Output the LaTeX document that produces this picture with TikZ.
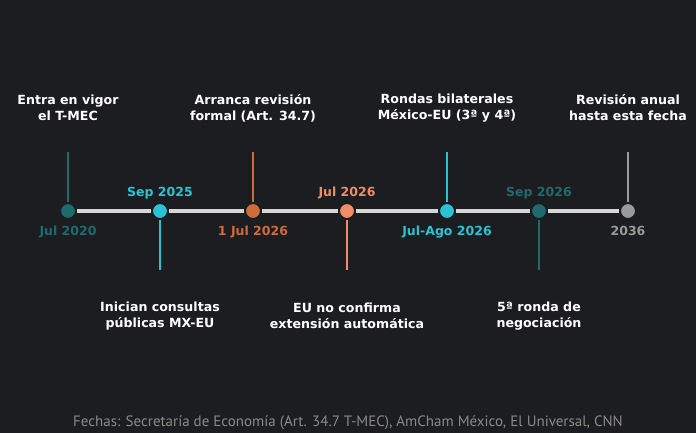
\documentclass[tikz,border=0pt]{standalone}
\usepackage{fontspec}
\setmainfont{DejaVu Sans}
\newfontfamily\notefont{PT Sans}
\usepackage{xcolor}

\definecolor{bgdark}{HTML}{1C1D21}
\definecolor{barline}{HTML}{D6D6D6}
\definecolor{tealdark}{HTML}{1E6A6C}
\definecolor{cyanhit}{HTML}{2BC3D4}
\definecolor{orangeburn}{HTML}{D06C3B}
\definecolor{salmonhit}{HTML}{F08D66}
\definecolor{greyend}{HTML}{9A9A9A}
\definecolor{notegrey}{HTML}{8A8A8A}

\tikzset{
    hito/.style={circle, minimum size=16pt, inner sep=0pt, draw=bgdark, line width=2pt, fill=#1},
    fecha/.style={anchor=base, inner sep=0pt, text=#1, font=\fontsize{12.5}{15}\selectfont\bfseries},
    evento/.style={align=center, inner sep=0pt, text=white, font=\fontsize{12.6}{16}\selectfont\bfseries},
    tallo/.style={line width=1.3pt, draw=#1},
}

\begin{document}
\begin{tikzpicture}[x=1pt, y=-1pt]
        \fill[bgdark] (0, 0) rectangle (696, 433);
        \useasboundingbox (0, 0) rectangle (696, 433);

        \node[hito=tealdark] (jul20) at (68, 211) {};
        \node[hito=cyanhit] (sep25) at (160, 211) {};
        \node[hito=orangeburn] (jul26a) at (253, 211) {};
        \node[hito=salmonhit] (jul26b) at (347, 211) {};
        \node[hito=cyanhit] (ago26) at (447, 211) {};
        \node[hito=tealdark] (sep26) at (539, 211) {};
        \node[hito=greyend] (a2036) at (628, 211) {};

        \draw[barline, line width=4pt]
            (jul20) -- (sep25) (sep25) -- (jul26a) (jul26a) -- (jul26b)
            (jul26b) -- (ago26) (ago26) -- (sep26) (sep26) -- (a2036);

        \coordinate (s1) at (68, 152);
        \coordinate (s2) at (160, 270);
        \coordinate (s3) at (253, 152);
        \coordinate (s4) at (347, 270);
        \coordinate (s5) at (447, 152);
        \coordinate (s6) at (539, 270);
        \coordinate (s7) at (628, 152);
        \draw[tallo=tealdark] (s1) -- (jul20);
        \draw[tallo=cyanhit] (s2) -- (sep25);
        \draw[tallo=orangeburn] (s3) -- (jul26a);
        \draw[tallo=salmonhit] (s4) -- (jul26b);
        \draw[tallo=cyanhit] (s5) -- (ago26);
        \draw[tallo=tealdark] (s6) -- (sep26);
        \draw[tallo=greyend] (s7) -- (a2036);

        \node[fecha=tealdark] (fjul20) at (68, 235) {Jul 2020};
        \node[fecha=cyanhit] (fsep25) at (160, 196) {Sep 2025};
        \node[fecha=orangeburn] (fjul26a) at (253, 235) {1 Jul 2026};
        \node[fecha=salmonhit] (fjul26b) at (347, 196) {Jul 2026};
        \node[fecha=cyanhit] (fago26) at (447, 235) {Jul-Ago 2026};
        \node[fecha=tealdark] (fsep26) at (539, 196) {Sep 2026};
        \node[fecha=greyend] (f2036) at (628, 235) {2036};

        \node[evento] (ejul20) at (68, 108) {Entra en vigor\\el T-MEC};
        \node[evento] (ejul26a) at (253, 108) {Arranca revisión\\formal (Art. 34.7)};
        \node[evento] (eago26) at (447, 108) {Rondas bilaterales\\México-EU (3ª y 4ª)};
        \node[evento] (e2036) at (628, 108) {Revisión anual\\hasta esta fecha};
        \node[evento] (esep25) at (160, 316) {Inician consultas\\públicas MX-EU};
        \node[evento] (ejul26b) at (347, 316) {EU no confirma\\extensión automática};
        \node[evento] (esep26) at (539, 316) {5ª ronda de\\negociación};

        \node[text=notegrey, font=\notefont\fontsize{15}{18}\selectfont] (fuente) at (348, 423)
            {Fechas: Secretaría de Economía (Art. 34.7 T-MEC), AmCham México, El Universal, CNN};
    \end{tikzpicture}
\end{document}
